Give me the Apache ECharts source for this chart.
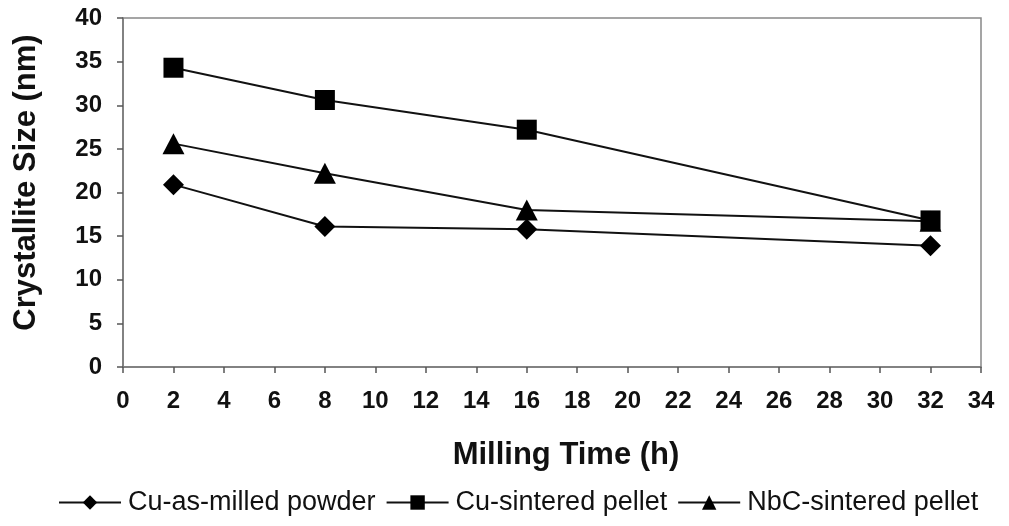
<!DOCTYPE html>
<html>
<head>
<meta charset="utf-8">
<script src="https://cdn.jsdelivr.net/npm/echarts@6/dist/echarts.min.js"></script>
<style>
  html, body { margin: 0; padding: 0; background: #fff; }
  #chart { width: 1009px; height: 526px; }
</style>
</head>
<body>
<div id="chart"></div>
<script>
// milling time (h)
const hours = [2, 8, 16, 32];
const cuAsMilled = [20.9, 16.1, 15.8, 13.9];
const cuSintered = [34.3, 30.6, 27.2, 16.8];
const nbcSintered = [25.6, 22.2, 18.0, 16.7];
const seriesNames = ['Cu-as-milled powder', 'Cu-sintered pellet', 'NbC-sintered pellet'];

const pairs = arr => hours.map((h, i) => [h, arr[i]]);
const tri = 'path://M0,10 L5,0 L10,10 Z';

const chart = echarts.init(document.getElementById('chart'));
const fam = 'Liberation Sans, Arial, sans-serif';
const axisFont = { fontFamily: fam, fontWeight: 'bold', color: '#111', fontSize: 24 };
const titleFont = { fontFamily: fam, fontWeight: 'bold', color: '#111', fontSize: 31 };

chart.setOption({
  backgroundColor: '#fff',
  animation: false,
  grid: { left: 123, right: 28, top: 18, bottom: 159, show: true, borderColor: '#888', borderWidth: 1.5 },
  legend: {
    top: 484,
    left: 53,
    itemGap: 10,
    itemWidth: 62,
    itemHeight: 18,
    textStyle: { fontFamily: fam, fontSize: 27, color: '#111', padding: [0, 0, 0, 2] },
    data: seriesNames
  },
  xAxis: {
    type: 'value',
    min: 0, max: 34, interval: 2,
    name: 'Milling Time (h)',
    nameLocation: 'middle',
    nameGap: 73,
    nameTextStyle: Object.assign({ padding: [0, 0, 0, 28] }, titleFont),
    axisLine: { lineStyle: { color: '#777', width: 1.5 } },
    axisTick: { inside: false, length: 6, lineStyle: { color: '#555', width: 1.5 } },
    axisLabel: Object.assign({ margin: 22 }, axisFont),
    splitLine: { show: false }
  },
  yAxis: {
    type: 'value',
    min: 0, max: 40, interval: 5,
    name: 'Crystallite Size (nm)',
    nameLocation: 'middle',
    nameGap: 81,
    nameTextStyle: Object.assign({ padding: [0, 0, 0, 20] }, titleFont),
    axisLine: { show: true, lineStyle: { color: '#777', width: 1.5 } },
    axisTick: { show: true, length: 6, lineStyle: { color: '#555', width: 1.5 } },
    axisLabel: Object.assign({ margin: 21 }, axisFont),
    splitLine: { show: false }
  },
  series: [
    {
      name: seriesNames[0], type: 'line', data: pairs(cuAsMilled),
      symbol: 'diamond', symbolSize: 21,
      lineStyle: { color: '#111', width: 2 }, itemStyle: { color: '#000' }
    },
    {
      name: seriesNames[1], type: 'line', data: pairs(cuSintered),
      symbol: 'rect', symbolSize: 20,
      lineStyle: { color: '#111', width: 2 }, itemStyle: { color: '#000' }
    },
    {
      name: seriesNames[2], type: 'line', data: pairs(nbcSintered),
      symbol: tri, symbolSize: [22, 21],
      lineStyle: { color: '#111', width: 2 }, itemStyle: { color: '#000' }
    }
  ]
});
</script>
</body>
</html>
